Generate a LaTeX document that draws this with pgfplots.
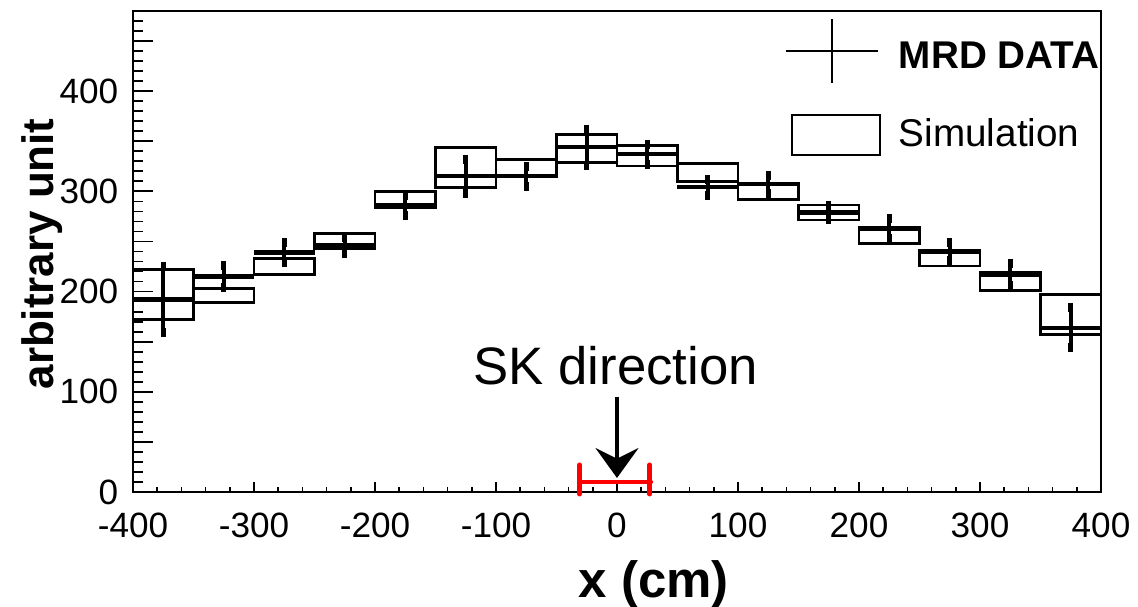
\documentclass[border=0pt]{standalone}
\usepackage{pgfplots}
\pgfplotsset{compat=1.18}
\usepackage{pgfplotstable}
\usepackage{fontspec}
\setmainfont{Liberation Sans}
\usetikzlibrary{arrows.meta}

% MRD data: bin centre, value, error, half bin width
\pgfplotstableread{
x    data derr xe
-375 192  33   25
-325 215  11   25
-275 239  10   25
-225 246  8    25
-175 286  10   25
-125 315  17   25
-75  315  10   25
-25  344  18   25
25   337  10   25
75   304  8    25
125  307  9    25
175  279  7    25
225  263  10   25
275  240  9    25
325  217  11   25
375  164  20   25
}\mrd

\begin{document}
\begin{tikzpicture}
\begin{axis}[
  at={(0,0)}, anchor=south west,
  scale only axis, width=96.8mm, height=48.1mm,
  xmin=-400, xmax=400, ymin=0, ymax=480,
  clip=false,
  axis line style={line width=0.6pt, black},
  tick style={line width=0.5pt, black},
  tick align=inside,
  xtick pos=left, ytick pos=left,
  major tick length=2.85pt, minor tick length=1.4pt,
  xtick={-400,-300,...,400},
  xticklabels={-400,-300,-200,-100,0,100,200,300,400},
  minor xtick={-400,-380,...,400},
  ytick={0,10,...,480},
  yticklabels={},
  extra y ticks={0,50,...,450},
  extra y tick labels={0,,100,,200,,300,,400,},
  extra y tick style={major tick length=5.7pt},
  xticklabel style={font=\fontsize{10}{12}\selectfont, inner sep=0pt, anchor=north},
  xticklabel shift=5.7pt,
  yticklabel style={font=\fontsize{10}{12}\selectfont, inner sep=0pt, anchor=east},
  yticklabel shift=4pt,
  xlabel={x (cm)},
  xlabel style={at={(axis description cs:0.538,-0.219)}, anchor=base, inner sep=0pt,
    font=\bfseries\fontsize{14.5}{17}\selectfont},
  ylabel={arbitrary unit},
  ylabel style={at={(axis description cs:-0.0826,0.495)}, anchor=base, inner sep=0pt,
    font=\bfseries\fontsize{12.5}{15}\selectfont},
  legend style={at={(rel axis cs:0.6736,0.9854)}, anchor=north west, draw=none, fill=none,
    inner sep=0pt, outer sep=0pt, row sep=8.5pt, column sep=5.1pt,
    font=\fontsize{11}{13}\selectfont, nodes={inner sep=0pt}},
  legend cell align=left,
]
% simulation boxes (value +- error over each 50 cm bin)
\addplot[forget plot, black, line width=0.75pt, line join=miter, line cap=rect, unbounded coords=jump] table {
x y
-400 172
-350 172
-350 222
-400 222
-400 172
nan nan
-350 189
-300 189
-300 203
-350 203
-350 189
nan nan
-300 217
-250 217
-250 233
-300 233
-300 217
nan nan
-250 243
-200 243
-200 258
-250 258
-250 243
nan nan
-200 284
-150 284
-150 300
-200 300
-200 284
nan nan
-150 304
-100 304
-100 344
-150 344
-150 304
nan nan
-100 315
-50 315
-50 332
-100 332
-100 315
nan nan
-50 329
0 329
0 357
-50 357
-50 329
nan nan
0 325.5
50 325.5
50 345.5
0 345.5
0 325.5
nan nan
50 310
100 310
100 328
50 328
50 310
nan nan
100 292
150 292
150 308
100 308
100 292
nan nan
150 271.5
200 271.5
200 286.5
150 286.5
150 271.5
nan nan
200 248
250 248
250 264
200 264
200 248
nan nan
250 225.5
300 225.5
300 241.5
250 241.5
250 225.5
nan nan
300 201
350 201
350 219
300 219
300 201
nan nan
350 157
400 157
400 197
350 197
350 157
};
% MRD data: horizontal bin line
\addplot[forget plot, only marks, mark=*, mark options={opacity=0},
  error bars/.cd, x dir=both, x explicit, error mark=none,
  error bar style={line width=1.2pt, black, opacity=1}]
  table[x=x, y=data, x error=xe] {\mrd};
% MRD data: vertical error bars
\addplot[forget plot, only marks, mark=*, mark options={opacity=0},
  error bars/.cd, y dir=both, y explicit, error mark=-,
  error bar style={line width=1pt, black, opacity=1},
  error mark options={black, opacity=1, line width=1.3pt, mark size=1.3pt}]
  table[x=x, y=data, y error=derr] {\mrd};
% red range marker
\addplot[forget plot, red, line width=1.3pt, line cap=round] coordinates {(-31,10) (28,10)};
\addplot[forget plot, red, line width=1.4pt, line cap=round] coordinates {(-31,-2) (-31,27)};
\addplot[forget plot, red, line width=1.4pt, line cap=round] coordinates {(27,-2) (27,27)};
% annotation
\draw[line width=1.1pt, -{Stealth[length=8.5pt,width=12.2pt,inset=3pt]}] (axis cs:0,95) -- (axis cs:0,14);
\node[anchor=base, inner sep=0pt, font=\fontsize{15}{18}\selectfont] at (axis cs:-1,107) {SK direction};
% legend
\addlegendimage{legend image code/.code={
  \draw[line width=0.6pt] (0pt,2pt) -- (26.2pt,2pt);
  \draw[line width=0.6pt] (13.1pt,-7.1pt) -- (13.1pt,11.1pt);}}
\addlegendentry{\bfseries MRD DATA}
\addlegendimage{legend image code/.code={
  \path (0pt,0pt);
  \draw[line width=0.6pt] (1.7pt,-5.7pt) rectangle (26.7pt,5.7pt);}}
\addlegendentry{Simulation}
\end{axis}
\pgfresetboundingbox
\useasboundingbox (-13.3mm,-11.5mm) rectangle (100.5mm,49.2mm);
\end{tikzpicture}
\end{document}
